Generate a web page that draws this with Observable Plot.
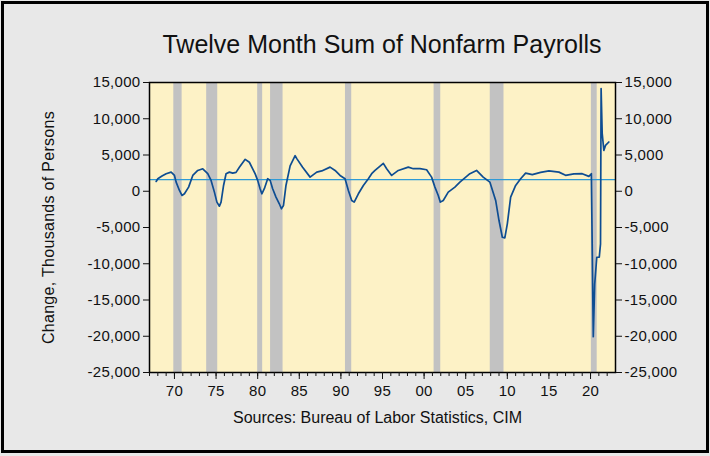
<!DOCTYPE html>
<html>
<head>
<meta charset="utf-8">
<script src="https://cdn.jsdelivr.net/npm/d3@7"></script>
<script src="https://cdn.jsdelivr.net/npm/@observablehq/plot@0.6"></script>
<style>
  html, body { margin: 0; padding: 0; background: #e8e8e8; }
  #wrap { position: relative; width: 710px; height: 456px; background: #e8e8e8; overflow: hidden; font-family: "Liberation Sans", Arial, sans-serif; }
  #frame { position: absolute; left: 1px; top: 1px; width: 702px; height: 446px; border: 3px solid #000; pointer-events: none; }
  #title { position: absolute; left: 0; width: 764px; top: 30px; text-align: center; font-size: 25px; color: #111; }
  #caption { position: absolute; left: 0; width: 755px; top: 409px; text-align: center; font-size: 16px; color: #111; }
  #chart { position: absolute; left: 0; top: 0; }
  #chart svg text { letter-spacing: 0.3px; }
</style>
</head>
<body>
<div id="wrap">
  <div id="chart"></div>
  <div id="title">Twelve Month Sum of Nonfarm Payrolls</div>
  <div id="caption">Sources: Bureau of Labor Statistics, CIM</div>
  <div id="frame"></div>
</div>
<script>
// Twelve-month change in nonfarm payrolls (thousands)
const dates = [1967.8,1968.0,1968.5,1969.0,1969.6,1970.0,1970.2,1970.6,1970.9,1971.2,1971.7,1972.2,1972.8,1973.4,1974.0,1974.4,1974.8,1975.1,1975.4,1975.6,1975.9,1976.2,1976.6,1977.0,1977.4,1977.8,1978.5,1979.0,1979.4,1979.7,1980.0,1980.3,1980.5,1980.8,1981.2,1981.5,1981.8,1982.2,1982.6,1982.85,1983.1,1983.4,1983.9,1984.5,1984.7,1985.4,1986.3,1987.1,1987.7,1988.7,1989.3,1989.9,1990.5,1990.9,1991.3,1991.6,1992.1,1992.7,1993.3,1993.7,1994.1,1995.1,1995.5,1996.1,1996.9,1998.1,1998.7,1999.5,2000.3,2000.9,2001.3,2001.7,2001.95,2002.3,2002.9,2003.7,2004.3,2005.5,2006.3,2007.1,2007.9,2008.6,2009.0,2009.4,2009.7,2010.0,2010.4,2011.0,2011.6,2012.2,2013.0,2014.0,2015.0,2016.2,2017.0,2018.0,2019.0,2019.8,2020.1,2020.33,2020.5,2020.75,2021.05,2021.2,2021.27,2021.4,2021.6,2021.8,2022.2];
const payrolls = [1350,1730,2100,2420,2640,2180,1260,110,-580,-350,570,2180,2870,3100,2420,1490,-120,-1500,-2060,-1500,800,2420,2640,2500,2600,3300,4400,4000,3100,2400,1500,300,-350,350,1730,1500,350,-810,-1730,-2420,-1960,800,3500,4900,4500,3300,1950,2640,2800,3330,2870,2180,1730,110,-1270,-1500,-350,800,1730,2420,2870,3850,3110,2180,2870,3330,3110,3110,2970,1950,570,-580,-1500,-1270,-120,570,1260,2420,2870,1950,1260,-1270,-4040,-6340,-6430,-4490,-810,800,1730,2500,2300,2600,2800,2640,2200,2400,2420,2050,2420,-20070,-12790,-9100,-9100,-7260,14170,8000,5640,6330,6790];

// Recession shading (decimal years)
const recessionStart = [1969.92,1973.87,1980.0,1981.55,1990.55,2001.2,2007.95,2020.1];
const recessionEnd   = [1970.92,1975.2,1980.6,1983.05,1991.3,2002.0,2009.6,2020.8];

// Average reference line
const averageLine = [1600];

const yTicks = [-25000,-20000,-15000,-10000,-5000,0,5000,10000,15000];
const xMajorTicks = [1970,1975,1980,1985,1990,1995,2000,2005,2010,2015,2020];
const xMinorTicks = d3.range(1967, 2023);
const xDomain = [1967, 2023];
const yDomain = [-25000, 15000];
const yAxisTitle = "Change, Thousands of Persons";

const series = dates.map((d, i) => ({date: d, value: payrolls[i]}));
const recessions = recessionStart.map((s, i) => ({start: s, end: recessionEnd[i]}));

const fmtY = d => d.toLocaleString("en-US");
const fmtX = d => String(d % 100).padStart(2, "0");

const plot = Plot.plot({
  width: 710,
  height: 456,
  marginLeft: 149,
  marginRight: 95,
  marginTop: 82,
  marginBottom: 84,
  x: {domain: xDomain},
  y: {domain: yDomain},
  style: {background: "transparent", fontFamily: "'Liberation Sans', Arial, sans-serif", fontSize: "15px", color: "#111"},
  marks: [
    Plot.frame({fill: "#fdf2c6", stroke: null}),
    Plot.rect(recessions, {x1: "start", x2: "end", fill: "#c2c2c2"}),
    Plot.ruleY(averageLine, {stroke: "#2e9ad6", strokeWidth: 1.2}),
    Plot.line(series, {x: "date", y: "value", stroke: "#0e4d92", strokeWidth: 1.7, curve: "linear"}),
    Plot.frame({stroke: "#000", strokeWidth: 1.5}),
    Plot.axisY({anchor: "left", ticks: yTicks, tickFormat: fmtY, tickSize: 6, tickPadding: 3, label: null}),
    Plot.axisY({anchor: "right", ticks: yTicks, tickFormat: fmtY, tickSize: 6, tickPadding: 3, label: null}),
    Plot.axisX({ticks: xMinorTicks, tickFormat: () => "", tickSize: 4, label: null}),
    Plot.axisX({ticks: xMajorTicks, tickFormat: fmtX, tickSize: 7, tickPadding: 6, label: null}),
    Plot.text([yAxisTitle], {frameAnchor: "left", dx: -101, rotate: -90, textAnchor: "middle", fontSize: 16, fill: "#111"})
  ]
});
document.getElementById("chart").appendChild(plot);
</script>
</body>
</html>
